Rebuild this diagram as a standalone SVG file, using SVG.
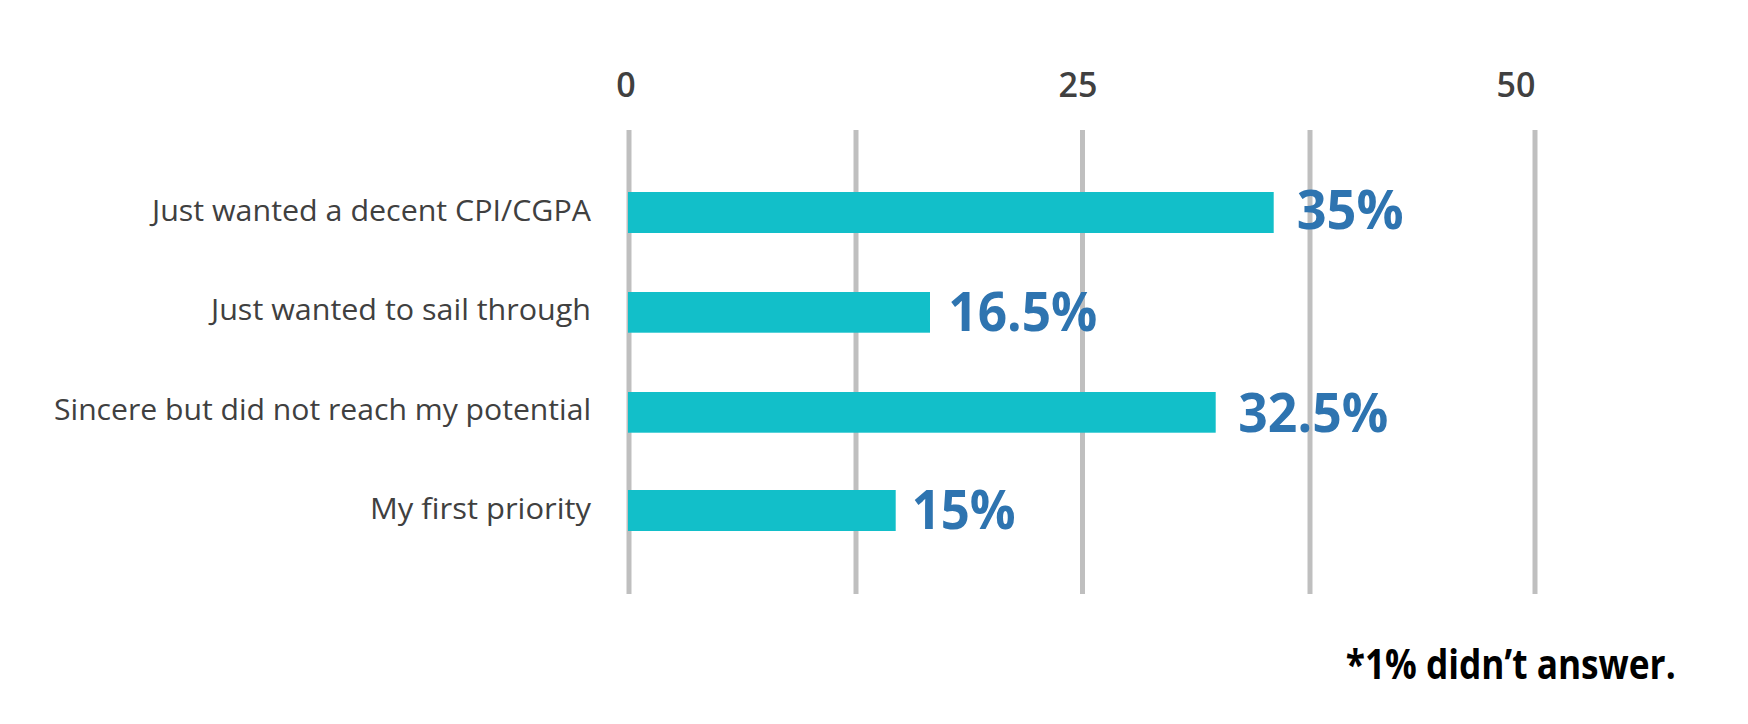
<svg xmlns="http://www.w3.org/2000/svg" width="1748" height="724" viewBox="0 0 1748 724">
<style>
.grid{stroke:#bfbfbf;stroke-width:5;}
.bar{fill:#12bfc9;}
.cat{font-family:"Open Sans","Liberation Sans",sans-serif;font-weight:400;font-size:30px;fill:#404040;text-anchor:end;}
.val{font-family:"Open Sans","Liberation Sans",sans-serif;font-weight:700;font-size:54px;fill:#2e74b0;}
.axis{font-family:"Open Sans","Liberation Sans",sans-serif;font-weight:600;font-size:34px;fill:#404040;text-anchor:middle;}
.note{font-family:"Open Sans","Liberation Sans",sans-serif;font-weight:700;font-size:41px;fill:#000;}
</style>
<rect width="1748" height="724" fill="#ffffff"/>
<g id="gridlines">
<line class="grid" x1="629" y1="130" x2="629" y2="594"/>
<line class="grid" x1="856" y1="130" x2="856" y2="594"/>
<line class="grid" x1="1082.5" y1="130" x2="1082.5" y2="594"/>
<line class="grid" x1="1310" y1="130" x2="1310" y2="594"/>
<line class="grid" x1="1535" y1="130" x2="1535" y2="594"/>
</g>
<g id="axis-labels">
<text class="axis" x="626" y="97">0</text>
<text class="axis" x="1078" y="97">25</text>
<text class="axis" x="1516" y="97">50</text>
</g>
<g id="bar1">
<rect class="bar" x="628" y="192" width="645.7" height="41"/>
<text class="cat" x="591" y="220.5" textLength="439" lengthAdjust="spacingAndGlyphs">Just wanted a decent CPI/CGPA</text>
<text class="val" x="1296.7" y="229" textLength="107" lengthAdjust="spacingAndGlyphs">35%</text>
</g>
<g id="bar2">
<rect class="bar" x="628" y="292" width="302" height="40.7"/>
<text class="cat" x="591" y="320" textLength="380" lengthAdjust="spacingAndGlyphs">Just wanted to sail through</text>
<text class="val" x="948.3" y="331" textLength="149" lengthAdjust="spacingAndGlyphs">16.5%</text>
</g>
<g id="bar3">
<rect class="bar" x="628" y="392" width="587.7" height="40.7"/>
<text class="cat" x="591" y="420" textLength="537" lengthAdjust="spacingAndGlyphs">Sincere but did not reach my potential</text>
<text class="val" x="1238.3" y="431.5" textLength="150" lengthAdjust="spacingAndGlyphs">32.5%</text>
</g>
<g id="bar4">
<rect class="bar" x="628" y="490" width="267.7" height="41"/>
<text class="cat" x="591" y="518.5" textLength="221" lengthAdjust="spacingAndGlyphs">My first priority</text>
<text class="val" x="911.7" y="529.3" textLength="104" lengthAdjust="spacingAndGlyphs">15%</text>
</g>
<g id="footnote">
<text class="note" x="1345.7" y="679" textLength="330" lengthAdjust="spacingAndGlyphs">*1% didn’t answer.</text>
</g>
</svg>
